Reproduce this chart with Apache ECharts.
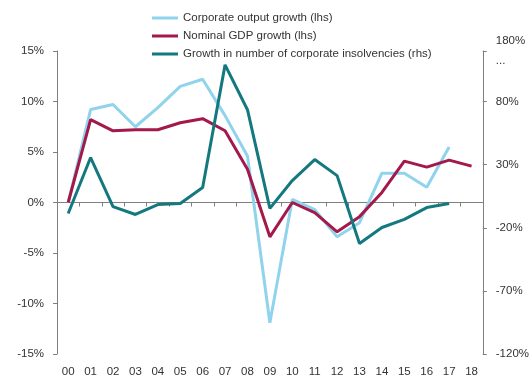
<!DOCTYPE html>
<html><head><meta charset="utf-8">
<script src="https://cdn.jsdelivr.net/npm/echarts@6/dist/echarts.min.js"></script>
<style>html,body{margin:0;padding:0;background:#fff}#c{width:532px;height:384px}</style>
</head><body><div id="c"></div>
<script>
const categories = ['00','01','02','03','04','05','06','07','08','09','10','11','12','13','14','15','16','17','18'];
const corporateOutput = [0.0, 9.2, 9.7, 7.5, 9.4, 11.5, 12.2, 8.6, 4.6, -11.9, 0.3, -0.7, -3.4, -2.0, 2.9, 2.9, 1.5, 5.5, null];
const nominalGDP = [0.0, 8.2, 7.1, 7.2, 7.2, 7.9, 8.3, 7.1, 3.3, -3.4, 0.0, -1.0, -2.9, -1.4, 1.0, 4.1, 3.5, 4.2, 3.6];
const insolvencies = [-8.7, 35.6, -3.2, -9.5, -1.6, -0.8, 11.9, 109, 73.5, -4.7, 17.4, 34, 21.3, -32.4, -19.8, -13.4, -4.0, -0.8, null];
const seriesNames = ['Corporate output growth (lhs)', 'Nominal GDP growth (lhs)', 'Growth in number of corporate insolvencies (rhs)'];

const FONT = '"Liberation Sans Narrow", "Liberation Sans", sans-serif';
const TXT = '#333';
const AX = '#7f7f7f';
const chart = echarts.init(document.getElementById('c'));
chart.setOption({
  animation: false,
  textStyle: {fontFamily: FONT},
  legend: {
    orient: 'vertical', left: 147, top: 7, itemGap: 6,
    itemWidth: 26, itemHeight: 3, icon: 'rect',
    textStyle: {fontFamily: FONT, fontSize: 11.5, color: TXT},
    data: seriesNames
  },
  grid: {left: 57, right: 49, top: 51, bottom: 30},
  xAxis: [{
    type: 'category', data: categories, position: 'bottom',
    axisLine: {show: false}, axisTick: {show: false},
    axisLabel: {fontFamily: FONT, fontSize: 11.5, color: TXT, margin: 12}
  }, {
    type: 'category', data: categories, position: 'bottom',
    axisLine: {show: true, onZero: true, lineStyle: {color: AX, width: 1}},
    axisTick: {show: true, length: 4, lineStyle: {color: AX}},
    axisLabel: {show: false}
  }],
  yAxis: [{
    type: 'value', min: -15, max: 15, interval: 5, position: 'left',
    splitLine: {show: false},
    axisLine: {show: true, lineStyle: {color: AX}},
    axisTick: {show: true, length: 4, lineStyle: {color: AX}},
    axisLabel: {fontFamily: FONT, fontSize: 11.5, color: TXT, margin: 13, formatter: v => v + '%'}
  }, {
    type: 'value', min: -120, max: 120, interval: 50, position: 'right',
    splitLine: {show: false},
    axisLine: {show: true, lineStyle: {color: AX}},
    axisTick: {show: true, length: 4, lineStyle: {color: AX}},
    axisLabel: {fontFamily: FONT, fontSize: 11.5, color: TXT, margin: 13, lineHeight: 20,
      formatter: v => v === 120 ? '180%\n...' : v + '%'}
  }],
  series: [{
    name: seriesNames[0], type: 'line', data: corporateOutput, yAxisIndex: 0,
    symbol: 'none', lineStyle: {width: 3, color: '#8fd3ec'}, itemStyle: {color: '#8fd3ec'}
  }, {
    name: seriesNames[1], type: 'line', data: nominalGDP, yAxisIndex: 0,
    symbol: 'none', lineStyle: {width: 3, color: '#a3194b'}, itemStyle: {color: '#a3194b'}
  }, {
    name: seriesNames[2], type: 'line', data: insolvencies, yAxisIndex: 1,
    symbol: 'none', lineStyle: {width: 3, color: '#14797f'}, itemStyle: {color: '#14797f'}
  }]
});
</script></body></html>
